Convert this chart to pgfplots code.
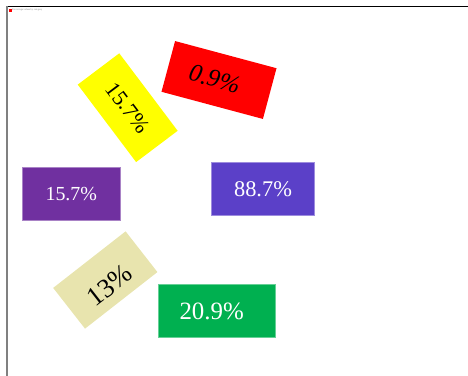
\documentclass[border=0pt]{standalone}
\usepackage{pgfplots}
\pgfplotsset{compat=1.18}
\usepackage{fontspec}
\setmainfont{Liberation Serif}
\definecolor{cred}{HTML}{FF0000}
\definecolor{cyel}{HTML}{FFFF00}
\definecolor{cpur}{HTML}{7030A0}
\definecolor{cblu}{HTML}{5B40C8}
\definecolor{ckha}{HTML}{E8E4AE}
\definecolor{cgrn}{HTML}{00B050}
\pgfplotsset{
  box/.style n args={6}{only marks, mark size=0pt,
    nodes near coords={#6}, nodes near coords align=center,
    every node near coord/.style={anchor=center, inner sep=0pt, rotate=#3,
      minimum width=#1, minimum height=#2, fill=#4, text=#5}}
}
\begin{document}
\begin{tikzpicture}
\path[use as bounding box] (-7bp,0) rectangle (461bp,376bp);
\begin{axis}[scale only axis, width=461bp, height=370bp,
  xmin=0, xmax=461, ymin=0, ymax=370, axis lines=none, clip=false]
\draw[black, line width=0.9bp] (rel axis cs:0,1) -- (rel axis cs:1,1);
\draw[gray, line width=1.2bp] (rel axis cs:0,0) -- (rel axis cs:0,1);
\fill[red] (axis cs:2,364) rectangle (axis cs:4.5,367);
\node[anchor=west, text=gray, inner sep=0pt, font=\fontsize{2.5}{3}\selectfont] at (axis cs:5,366) {Percentage values by category};
\addplot[box={105bp}{52.5bp}{-15}{cred}{black}{\fontsize{25}{30}\selectfont\itshape 0.9\%\rule{9bp}{0pt}}] coordinates {(212,296)};
\addplot[box={97bp}{52bp}{-53}{cyel}{black}{\fontsize{22}{26}\selectfont 15.7\%}] coordinates {(120.7,268.3)};
\addplot[box={98bp}{52.7bp}{0}{cpur}{white}{\fontsize{20}{24}\selectfont 15.7\%}, every node near coord/.append style={draw=cpur!60!white, line width=0.7bp}] coordinates {(64.3,182)};
\addplot[box={102.7bp}{53bp}{0}{cblu}{white}{\fontsize{22.5}{27}\selectfont 88.7\%}, every node near coord/.append style={draw=cblu!60!white, line width=0.7bp}] coordinates {(256,186.8)};
\addplot[box={91.9bp}{51.7bp}{38}{ckha}{black}{\fontsize{27}{32}\selectfont 13\%}, every node near coord/.append style={text height=33bp, text depth=2bp}] coordinates {(98.3,96)};
\addplot[box={116.7bp}{52.7bp}{0}{cgrn}{white}{\fontsize{25}{30}\selectfont 20.9\%\rule{10bp}{0pt}}, every node near coord/.append style={draw=cgrn!60!white, line width=0.7bp}] coordinates {(209.7,65)};
\end{axis}
\end{tikzpicture}
\end{document}
